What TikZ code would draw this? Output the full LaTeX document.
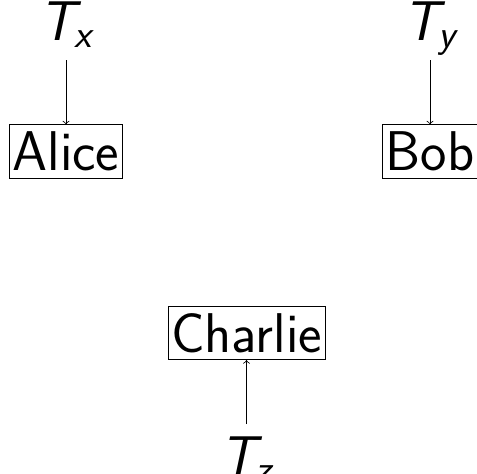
\documentclass[tikz,border=0pt]{standalone}
\usepackage{amsmath}
\usetikzlibrary{positioning}

\begin{document}
\begin{tikzpicture}[x=0.5pt, y=-0.5pt, >=to,
  font=\sffamily\fontsize{28}{33}\selectfont,
  person/.style={draw, inner xsep=1.5pt, inner ysep=3.5pt},
  tag/.style={inner sep=6pt, text depth=4pt},
  node distance=32pt]
  \useasboundingbox (0,0) rectangle (477,473);

  % Parties
  \node[person] (alice) at (66,151.5) {Alice};
  \node[person] (bob) at (430,151.5) {Bob};
  \node[person] (charlie) at (246.5,333) {Charlie};

  % Transactions
  \node[tag, above=of alice] (tx) {$\textit{T}_{\textit{x}}$};
  \node[tag, above=of bob] (ty) {$\textit{T}_{\textit{y}}$};
  \node[tag, below=of charlie] (tz) {$\textit{T}_{\textit{z}}$};

  \draw[->] (tx) -- (alice);
  \draw[->] (ty) -- (bob);
  \draw[->] (tz) -- (charlie);
\end{tikzpicture}
\end{document}
